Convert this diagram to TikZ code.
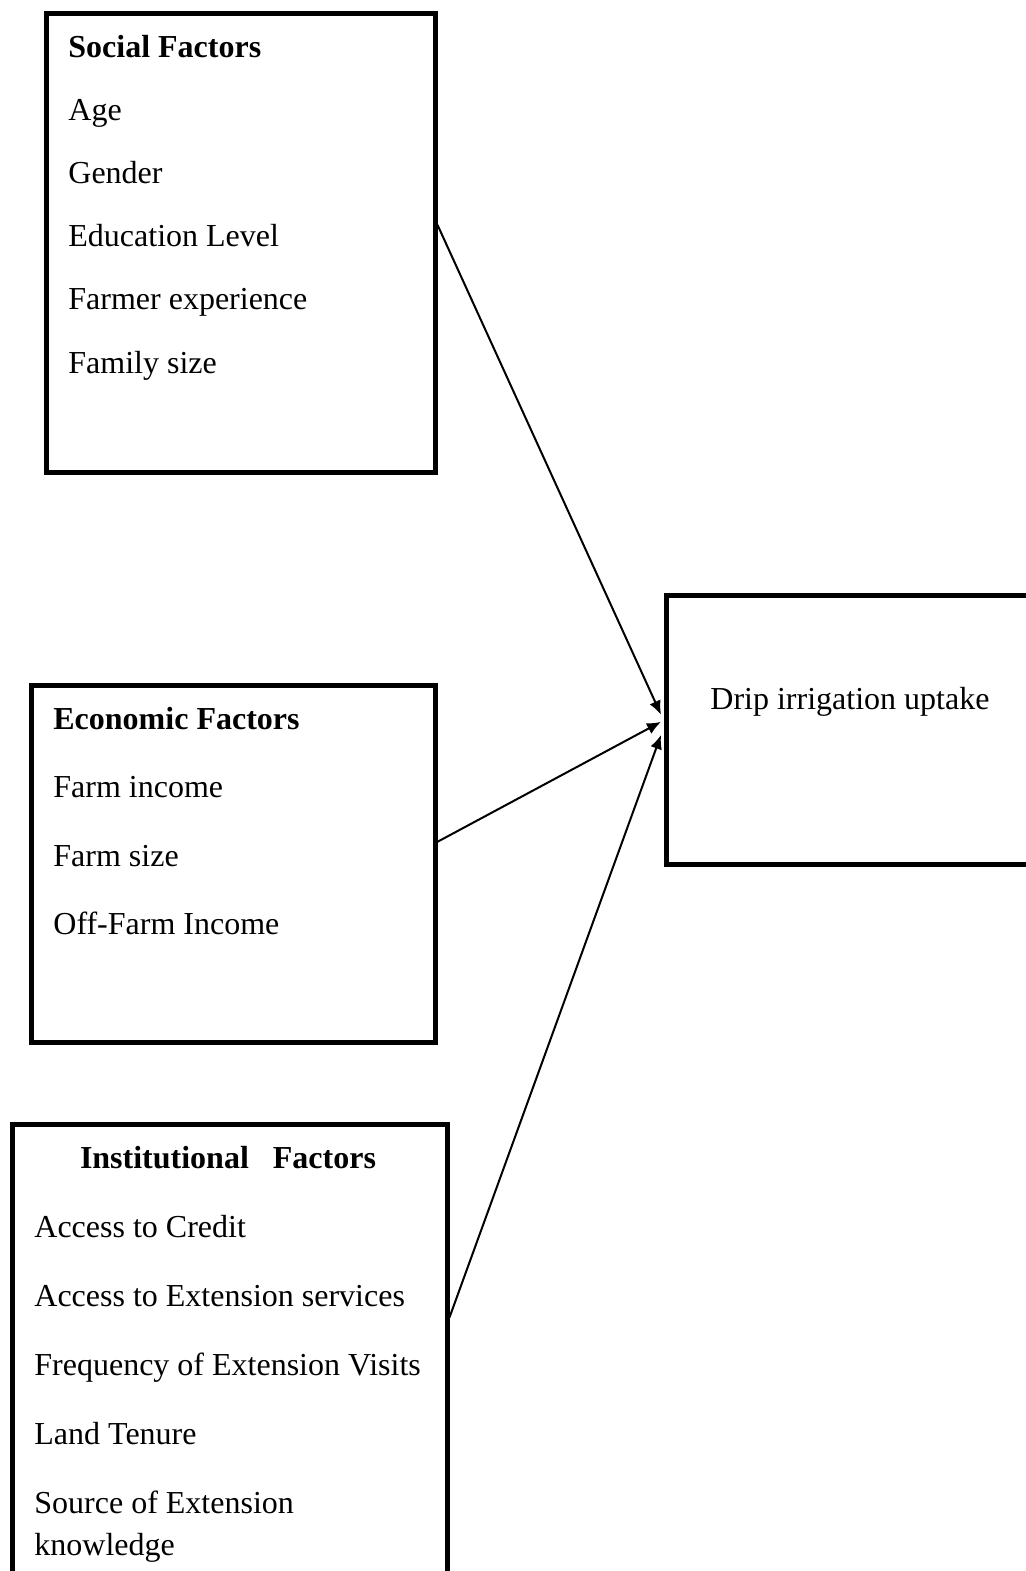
\documentclass[tikz,border=0pt]{standalone}
\usepackage{fontspec}
\setmainfont{Liberation Serif}
\usetikzlibrary{calc}
\usetikzlibrary{positioning}
\usetikzlibrary{arrows.meta}

\begin{document}
\begin{tikzpicture}[>={Latex[length=7pt,width=6pt]},x=0.5pt,y=-0.5pt,
    factorbox/.style={draw,line width=2.5pt,rectangle,inner sep=0pt},
    item/.style={anchor=base west,inner sep=0pt,font=\fontsize{16}{21}\selectfont},
    head/.style={item,font=\fontsize{16}{21}\selectfont\bfseries},
    link/.style={->,line width=1pt}]
    \useasboundingbox (0,0) rectangle (1025,1571);

    % boxes
    \node[factorbox,minimum width=194.5pt,minimum height=229.5pt] (social) at (240.5,242.5) {};
    \node[factorbox,minimum width=202pt,minimum height=178.5pt] (economic) at (233,863.5) {};
    \node[factorbox,minimum width=217.5pt,minimum height=248pt] (institutional) at (229.5,1372) {};
    \node[factorbox,minimum width=207pt,minimum height=134.5pt] (uptake) at (873,729.5) {};

    % social factors
    \node[head] (soc-head) at (68,57) {Social Factors};
    \foreach \txt [count=\i] in {Age,Gender,Education Level,Farmer experience,Family size}
        \node[item] (soc-\i) at (68,57+63.2*\i) {\txt};

    % economic factors
    \node[head] (eco-head) at (53,729) {Economic Factors};
    \foreach \txt [count=\i] in {Farm income,Farm size,Off-Farm Income}
        \node[item] (eco-\i) at (53,729+68.5*\i) {\txt};

    % institutional factors
    \node[head,anchor=base] (ins-head) at (228,1168) {Institutional\ \ \ Factors};
    \foreach \txt [count=\i] in {Access to Credit,Access to Extension services,Frequency of Extension Visits,Land Tenure}
        \node[item] (ins-\i) at (34,1168+69*\i) {\txt};
    \node[item,align=left] (ins-5) at (34,1555) {Source of Extension\\knowledge};

    % outcome
    \node[item] (upt-text) at (710,709) {Drip irrigation uptake};

    % arrows
    \coordinate (soc-out) at ($(social.north east)!0.462!(social.south east)$);
    \coordinate (eco-out) at ($(economic.north east)!0.44!(economic.south east)$);
    \coordinate (ins-out) at ($(institutional.north east)!0.391!(institutional.south east)$);
    \coordinate (tip1) at ($($(uptake.north west)!0.446!(uptake.south west)$)+(-2.5,0)$);
    \coordinate (tip2) at ($($(uptake.north west)!0.472!(uptake.south west)$)+(-2.5,0)$);
    \coordinate (tip3) at ($($(uptake.north west)!0.52!(uptake.south west)$)+(-2.5,0)$);
    \draw[link] (soc-out) -- (tip1);
    \draw[link] (eco-out) -- (tip2);
    \draw[link] (ins-out) -- (tip3);
\end{tikzpicture}
\end{document}
